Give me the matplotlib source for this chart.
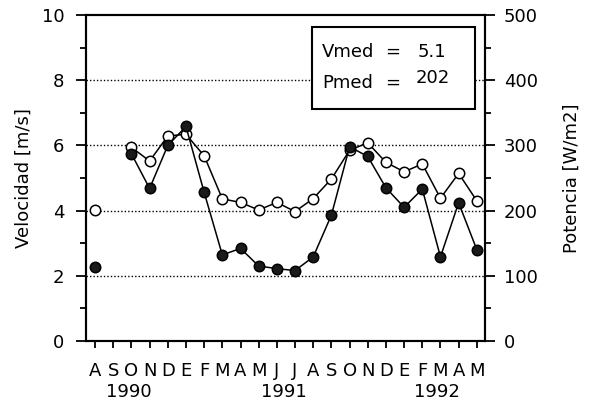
import numpy as np
import matplotlib
matplotlib.use("Agg")
import matplotlib.pyplot as plt
from matplotlib.patches import Rectangle
from matplotlib.transforms import blended_transform_factory

months = ["A", "S", "O", "N", "D", "E", "F", "M", "A", "M", "J",
          "J", "A", "S", "O", "N", "D", "E", "F", "M", "A", "M"]
years = ["1990", "1991", "1992"]
year_pos = [1.85, 10.4, 18.8]

# Velocidad [m/s] (open circles, left axis)
velocidad = [4.03, np.nan, 5.94, 5.52, 6.29, 6.34, 5.68, 4.36, 4.25, 4.02, 4.25,
             3.97, 4.37, 4.97, 5.85, 6.08, 5.48, 5.19, 5.43, 4.38, 5.14, 4.30]
# Potencia [W/m2] (filled circles, right axis)
potencia = [114, np.nan, 287, 234, 300, 329, 228, 132, 142, 115, 111,
            108, 129, 193, 298, 283, 235, 205, 233, 129, 212, 140]

vmed_text = "5.1"
pmed_text = "202"

plt.rcParams['font.family'] = ['DejaVu Sans']
fs = 13

fig = plt.figure(figsize=(5.89, 4.05), dpi=100)
ax = fig.add_axes([86/589, 1-341/405, 399/589, 326/405])
ax2 = ax.twinx()

x = np.arange(len(months))

ax.set_xlim(-0.5, 21.45)
ax.set_ylim(0, 10)
ax2.set_ylim(0, 500)

# grid lines
for g in [2, 4, 6, 8]:
    ax.axhline(g, color='black', lw=1.0, ls=(0, (1, 1.5)), zorder=1)

# text box
rect = Rectangle((0.566, 0.712), 0.409, 0.251, transform=ax.transAxes,
                 facecolor='white', edgecolor='black', lw=1.5, zorder=2)
ax.add_patch(rect)
ax.text(0.591, 0.887, "Vmed", transform=ax.transAxes, fontsize=fs, ha='left', va='center', zorder=3)
ax.text(0.768, 0.887, "=", transform=ax.transAxes, fontsize=fs, ha='center', va='center', zorder=3)
ax.text(0.832, 0.887, vmed_text, transform=ax.transAxes, fontsize=fs, ha='left', va='center', zorder=3)
ax.text(0.591, 0.791, "Pmed", transform=ax.transAxes, fontsize=fs, ha='left', va='center', zorder=3)
ax.text(0.768, 0.791, "=", transform=ax.transAxes, fontsize=fs, ha='center', va='center', zorder=3)
ax.text(0.825, 0.806, pmed_text, transform=ax.transAxes, fontsize=fs, ha='left', va='center', zorder=3)

ax.plot(x, velocidad, color='black', lw=1.1, marker='o', ms=7.5,
        mfc='white', mec='black', mew=1.1, zorder=4)
ax2.plot(x, potencia, color='black', lw=1.1, marker='o', ms=7.5,
         mfc='#1a1a1a', mec='black', mew=1.1, zorder=5)

# left axis ticks
ax.set_yticks([0, 2, 4, 6, 8, 10])
ax.set_yticks([1, 3, 5, 7, 9], minor=True)
ax.tick_params(axis='y', which='major', direction='out', length=7.5, width=1.3,
               labelsize=fs, pad=8)
ax.tick_params(axis='y', which='minor', direction='out', length=4, width=1.3)

ax2.set_yticks([0, 100, 200, 300, 400, 500])
ax2.set_yticks([50, 150, 250, 350, 450], minor=True)
ax2.tick_params(axis='y', which='major', direction='out', length=7.5, width=1.3,
                labelsize=fs, pad=6)
ax2.tick_params(axis='y', which='minor', direction='out', length=4, width=1.3)

ax.set_xticks(x)
ax.set_xticklabels(months)
ax.tick_params(axis='x', which='major', direction='out', length=5, width=1.3,
               labelsize=fs, pad=10)

for sp in ax.spines.values():
    sp.set_linewidth(1.5)
for sp in ax2.spines.values():
    sp.set_linewidth(1.5)

trans = blended_transform_factory(ax.transData, ax.transAxes)
for yr, p in zip(years, year_pos):
    ax.text(p, -0.155, yr, transform=trans, fontsize=fs, ha='center', va='center')

ax.set_ylabel("Velocidad [m/s]", fontsize=fs)
ax.yaxis.set_label_coords(-0.133, 0.5)
ax2.set_ylabel("Potencia [W/m2]", fontsize=fs)
ax2.yaxis.set_label_coords(1.195, 0.5)

fig.savefig("out.png", dpi=100)
